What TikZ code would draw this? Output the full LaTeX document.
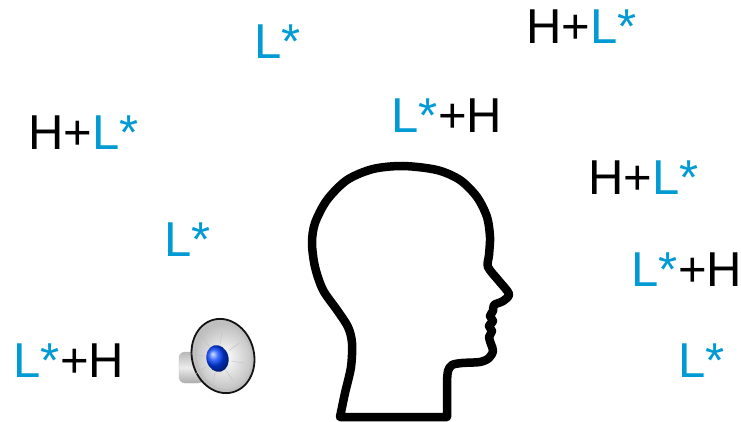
\documentclass[tikz,border=0pt]{standalone}
\usepackage{fontspec}
\setmainfont{Liberation Sans}
\usepackage{xcolor}
\usepackage{tikz}
\usetikzlibrary{positioning}

\definecolor{tonecol}{RGB}{0,155,212}
\newcommand{\Lstar}{\textcolor{tonecol}{L*}}

\begin{document}
\begin{tikzpicture}[
  x=1pt, y=-1pt,
  tone/.style={font=\fontsize{49}{49}\selectfont, anchor=base west, inner sep=0pt},
  headline/.style={draw=black, line width=8.5pt, line join=round, line cap=round},
  rim/.style={draw=gray!15!black, line width=1.8pt}
]
  \useasboundingbox (0,0) rectangle (741,422);
  \fill[white] (0,0) rectangle (741,422);

  % pitch accent labels
  \node[tone] (lstarA) at (254.5,59) {\Lstar};
  \node[tone] (hlA) at (28,150) {H+\Lstar};
  \node[tone] (hlB) at (526,44) {H+\Lstar};
  \node[tone] (lhA) at (391.5,133) {\Lstar+H};
  \node[tone] (hlC) at (588,195) {H+\Lstar};
  \node[tone] (lstarB) at (164.5,256) {\Lstar};
  \node[tone] (lhB) at (631.5,286) {\Lstar+H};
  \node[tone] (lhC) at (13.5,377) {\Lstar+H};
  \node[tone] (lstarC) at (678.5,377) {\Lstar};

  % head in profile
  \draw[headline] (447,417) -- (340,417)
    -- plot[smooth, tension=0.5] coordinates {
      (340,417) (345,393) (351,367) (352,343) (348,327) (337,310)
      (323,290) (315,267) (312,243) (315,223) (327,200) (347,180)
      (373,169) (403,166) (437,170) (460,180) (477,197) (487,217)
      (490,237) (489,255) (488,267) (499,281) (509,294)
      (503,301) (494,305) (493,311) (490,316) (493,321) (489,326)
      (492,331) (489,337) (491,344) (493,351) (489,358) (480,362)
      (462,363) (452,365) (448,371) (447,382)}
    -- cycle;

  % loudspeaker
  \shade[top color=gray!55, bottom color=gray!65, middle color=gray!15,
    draw=gray!55, rounded corners=6pt] (179,352) rectangle (204,383);
  \shade[left color=gray!65, right color=gray!20]
    (198,350) -- (206,325) -- (240,390) -- (200,382) -- cycle;
  \draw[rim, fill=gray!50, rotate around={15:(223,356)}] (223,356) ellipse (31 and 37.5);
  \shade[inner color=white, outer color=gray!50, rotate around={15:(224,356)}]
    (224,356) ellipse (27 and 33.5);
  \foreach \a in {10,55,100,145,190,235,280,325} {
    \draw[gray!50, line width=0.4pt] (217.5,358.5) ++(\a:14) -- ++(\a:13);
  }
  \shade[ball color=blue!75!cyan, rotate around={15:(217.5,358.5)}]
    (217.5,358.5) ellipse (11 and 13.5);
\end{tikzpicture}
\end{document}
